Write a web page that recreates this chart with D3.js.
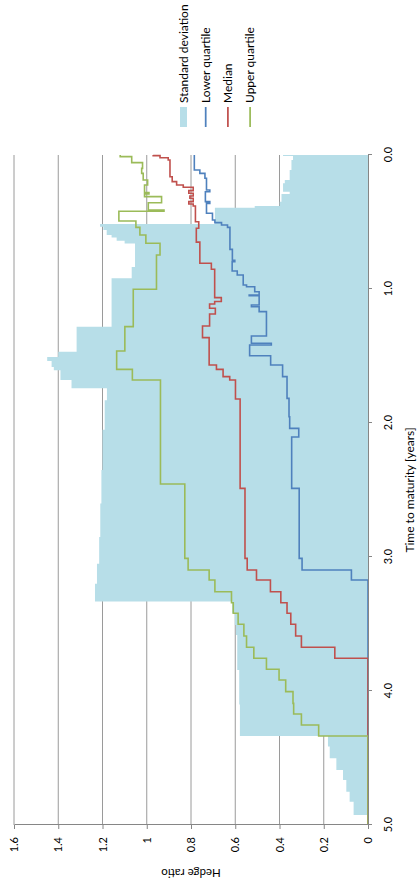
<!DOCTYPE html>
<html>
<head>
<meta charset="utf-8">
<script src="https://cdn.jsdelivr.net/npm/d3@7"></script>
<style>
  body { margin: 0; background: #fff; }
  text { font-family: Lato, "Open Sans", sans-serif; fill: #000; }
</style>
</head>
<body>
<div id="chart"></div>
<script>
// values: [time to maturity, hedge ratio], step changes
const stdDev = [
  [0, 0.384], [0.007, 0.339], [0.037, 0.346], [0.112, 0.354], [0.187, 0.376],
  [0.211, 0.384], [0.274, 0.354], [0.291, 0.391], [0.348, 0.399], [0.381, 0.512],
  [0.393, 0.692], [0.515, 1.211], [0.535, 1.196], [0.56, 1.181], [0.597, 1.159],
  [0.615, 1.136], [0.64, 1.10], [0.66, 1.053], [0.836, 1.068], [0.92, 1.159],
  [1.281, 1.317], [1.468, 1.40], [1.507, 1.45], [1.537, 1.43], [1.582, 1.42],
  [1.607, 1.39], [1.679, 1.34], [1.741, 1.18], [1.83, 1.19], [2.05, 1.20],
  [2.35, 1.205], [2.6, 1.21], [2.85, 1.215], [3.05, 1.225], [3.2, 1.234],
  [3.333, 0.614], [3.42, 0.602], [3.507, 0.597], [3.582, 0.591], [3.843, 0.582],
  [4.1, 0.579], [4.336, 0.181], [4.415, 0.173], [4.502, 0.143], [4.59, 0.113],
  [4.664, 0.098], [4.751, 0.083], [4.826, 0.065], [4.925, 0.065]
];

const lowerQuartile = [
  [0, 0.785], [0.112, 0.76], [0.137, 0.737], [0.174, 0.73], [0.261, 0.715],
  [0.274, 0.735], [0.348, 0.715], [0.361, 0.73], [0.435, 0.703], [0.485, 0.692],
  [0.505, 0.662], [0.522, 0.635], [0.54, 0.624], [0.704, 0.613], [0.785, 0.602],
  [0.797, 0.614], [0.866, 0.591], [0.896, 0.564], [0.97, 0.549], [0.983, 0.512],
  [1.02, 0.492], [1.045, 0.537], [1.05, 0.492], [1.119, 0.527], [1.132, 0.492],
  [1.169, 0.459], [1.351, 0.527], [1.405, 0.437], [1.418, 0.535], [1.498, 0.44],
  [1.567, 0.386], [1.654, 0.366], [1.816, 0.357], [1.953, 0.354], [2.04, 0.313],
  [2.104, 0.345], [2.488, 0.311], [3.01, 0.298], [3.097, 0.075], [3.172, 0],
  [5, 0]
];

const median = [
  [0, 0.971], [0.005, 0.94], [0.02, 0.903], [0.037, 0.895], [0.162, 0.885],
  [0.199, 0.865], [0.224, 0.835], [0.241, 0.79], [0.266, 0.81], [0.286, 0.79],
  [0.306, 0.805], [0.323, 0.79], [0.348, 0.81], [0.366, 0.79], [0.381, 0.78],
  [0.498, 0.765], [0.547, 0.776], [0.65, 0.76], [0.808, 0.708], [0.853, 0.693],
  [1.064, 0.663], [1.093, 0.693], [1.112, 0.716], [1.144, 0.69], [1.187, 0.716],
  [1.276, 0.748], [1.363, 0.718], [1.567, 0.685], [1.6, 0.655], [1.654, 0.625],
  [1.679, 0.599], [1.821, 0.578], [2.488, 0.556], [3.01, 0.546], [3.097, 0.504],
  [3.172, 0.441], [3.259, 0.394], [3.341, 0.366], [3.42, 0.349], [3.502, 0.327],
  [3.59, 0.301], [3.674, 0.15], [3.756, 0], [5, 0]
];

const upperQuartile = [
  [0, 1.12], [0.012, 1.068], [0.057, 1.019], [0.10, 1.023], [0.137, 1.016],
  [0.187, 0.996], [0.224, 1.01], [0.28, 0.99], [0.29, 1.01], [0.311, 0.933],
  [0.356, 0.993], [0.41, 0.922], [0.42, 1.126], [0.493, 1.049], [0.54, 1.031],
  [0.597, 1.004], [0.659, 0.94], [0.746, 0.956], [1.002, 1.061], [1.281, 1.099],
  [1.463, 1.136], [1.6, 1.065], [1.679, 0.938], [2.455, 0.828], [3.01, 0.813],
  [3.097, 0.718], [3.172, 0.692], [3.259, 0.617], [3.341, 0.609], [3.42, 0.587],
  [3.502, 0.561], [3.59, 0.549], [3.674, 0.516], [3.756, 0.459], [3.838, 0.402],
  [3.918, 0.372], [4.005, 0.339], [4.092, 0.336], [4.172, 0.301], [4.254, 0.223],
  [4.336, 0], [5, 0]
];

const hedgeTicks = [0, 0.2, 0.4, 0.6, 0.8, 1, 1.2, 1.4, 1.6];
const timeTicks = [0, 1, 2, 3, 4, 5];
const legendNames = ["Standard deviation", "Lower quartile", "Median", "Upper quartile"];
const colors = ["#b7dee8", "#4f81bd", "#c0504d", "#9bbb59"];

// the chart is laid out landscape, then turned a quarter to the left
const W = 881, H = 420;
const margin = {top: 14, right: 155, bottom: 52, left: 56};

const svg = d3.select("#chart")
  .append("svg")
  .attr("width", H)
  .attr("height", W);

const g = svg.append("g")
  .attr("transform", `translate(0, ${W}) rotate(-90)`);

const x = d3.scaleLinear()
  .domain([5, 0])
  .range([margin.left, W - margin.right]);

const y = d3.scaleLinear()
  .domain([0, 1.6])
  .range([H - margin.bottom, margin.top]);

// gridlines
g.append("g")
  .selectAll("line")
  .data(hedgeTicks.slice(1))
  .join("line")
    .attr("x1", x(5))
    .attr("x2", x(0))
    .attr("y1", d => y(d))
    .attr("y2", d => y(d))
    .attr("stroke", "#9a9a9a")
    .attr("stroke-width", 1);

// standard deviation area
g.append("path")
  .datum(stdDev)
  .attr("fill", colors[0])
  .attr("d", d3.area()
    .curve(d3.curveStepAfter)
    .x(d => x(d[0]))
    .y0(y(0))
    .y1(d => y(d[1])));

const line = d3.line()
  .curve(d3.curveStepAfter)
  .x(d => x(d[0]))
  .y(d => y(d[1]));

[lowerQuartile, median, upperQuartile].forEach((s, i) => {
  g.append("path")
    .datum(s)
    .attr("fill", "none")
    .attr("stroke", colors[i + 1])
    .attr("stroke-width", 1.6)
    .attr("stroke-linejoin", "miter")
    .attr("d", line);
});

// axes
const yAxis = g.append("g")
  .attr("transform", `translate(${margin.left}, 0)`)
  .call(d3.axisLeft(y).tickValues(hedgeTicks).tickFormat(d3.format("")).tickSize(4).tickPadding(8).tickSizeOuter(0));

const xAxis = g.append("g")
  .attr("transform", `translate(0, ${y(0)})`)
  .call(d3.axisBottom(x).tickValues(timeTicks).tickFormat(d3.format(".1f")).tickSize(4).tickPadding(12).tickSizeOuter(0));

[yAxis, xAxis].forEach(a => {
  a.select(".domain").attr("stroke", "#868686");
  a.selectAll(".tick line").attr("stroke", "#868686");
  a.selectAll("text").style("font-size", "11px").style("font-family", "Lato, sans-serif");
});

g.append("text")
  .attr("text-anchor", "middle")
  .attr("transform", `translate(12, ${(y(0) + y(1.6)) / 2}) rotate(-90)`)
  .style("font-size", "11.5px")
  .text("Hedge ratio");

g.append("text")
  .attr("text-anchor", "middle")
  .attr("x", (x(5) + x(0)) / 2)
  .attr("y", 414)
  .style("font-size", "12px")
  .text("Time to maturity [years]");

// legend
const legend = g.append("g")
  .attr("transform", `translate(${W - margin.right + 28}, 0)`);

legendNames.forEach((name, i) => {
  const cy = 183.5 + i * 22.2;
  if (i === 0) {
    legend.append("rect")
      .attr("x", 0).attr("y", cy - 3.5)
      .attr("width", 20).attr("height", 7)
      .attr("fill", colors[0]);
  } else {
    legend.append("line")
      .attr("x1", 0).attr("x2", 20)
      .attr("y1", cy).attr("y2", cy)
      .attr("stroke", colors[i])
      .attr("stroke-width", 1.75);
  }
  legend.append("text")
    .attr("x", 24)
    .attr("y", cy)
    .attr("dy", "0.35em")
    .style("font-size", "12px")
    .text(name);
});
</script>
</body>
</html>
